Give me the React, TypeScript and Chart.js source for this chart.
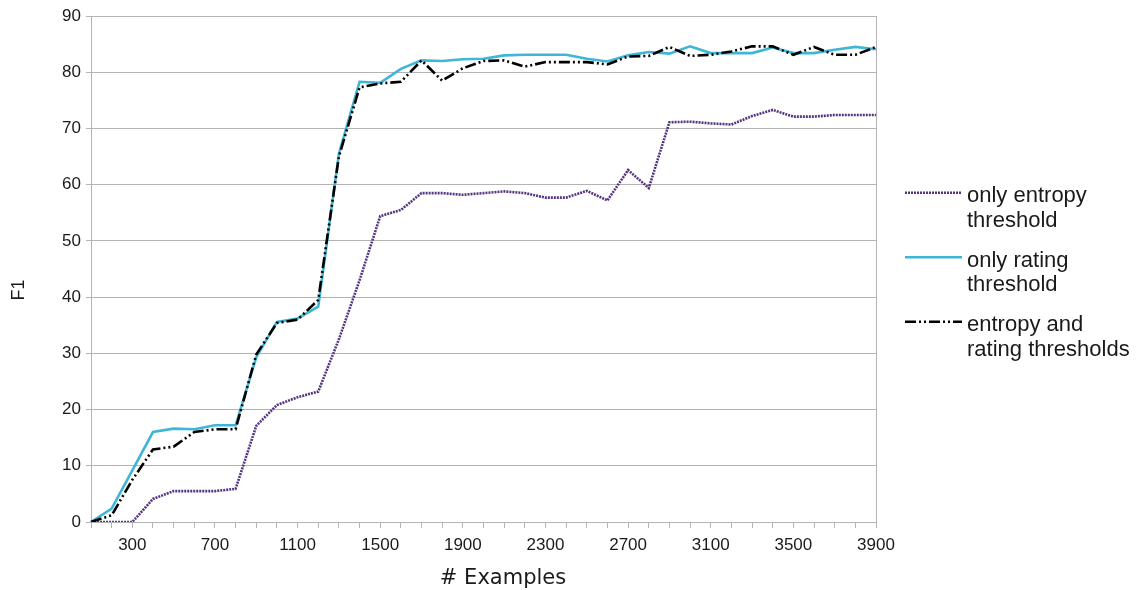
import { useEffect, useRef } from 'react';
import { Chart, registerables } from 'chart.js';

Chart.register(...registerables);

// ---- data ----
const examples = [
  '100', '200', '300', '400', '500', '600', '700', '800', '900', '1000',
  '1100', '1200', '1300', '1400', '1500', '1600', '1700', '1800', '1900', '2000',
  '2100', '2200', '2300', '2400', '2500', '2600', '2700', '2800', '2900', '3000',
  '3100', '3200', '3300', '3400', '3500', '3600', '3700', '3800', '3900',
];

const entropyOnly = [
  0, 0, 0, 4.1, 5.5, 5.5, 5.5, 5.9, 17.1, 20.8,
  22.2, 23.2, 32.5, 43, 54.4, 55.5, 58.5, 58.5, 58.2, 58.5,
  58.8, 58.5, 57.7, 57.7, 58.9, 57.2, 62.6, 59.4, 71.1, 71.2,
  70.9, 70.7, 72.2, 73.3, 72.1, 72.1, 72.4, 72.4, 72.4,
];

const ratingOnly = [
  0, 2.4, 9.2, 16, 16.6, 16.5, 17.2, 17.2, 29.3, 35.6,
  36.2, 38.3, 65.5, 78.3, 78.1, 80.6, 82.1, 82, 82.3, 82.4,
  83, 83.1, 83.1, 83.1, 82.4, 81.9, 83, 83.6, 83.3, 84.6,
  83.4, 83.4, 83.4, 84.4, 83.4, 83.4, 84, 84.5, 84.1,
];

const entropyAndRating = [
  0, 1.2, 7.5, 12.9, 13.4, 16, 16.5, 16.5, 29.8, 35.4,
  36, 39.5, 65, 77.3, 78, 78.3, 82.1, 78.5, 80.7, 82,
  82.1, 81, 81.8, 81.8, 81.8, 81.4, 82.8, 82.9, 84.5, 82.9,
  83.1, 83.7, 84.6, 84.6, 83.1, 84.5, 83.1, 83.1, 84.5,
];

const seriesNames = [
  ['only entropy', 'threshold'],
  ['only rating', 'threshold'],
  ['entropy and', 'rating thresholds'],
];

const yMin = 0;
const yMax = 90;
const yStep = 10;
const xTitle = '# Examples';
const yTitle = 'F1';

// ---- styles ----
const FONT = "'Liberation Sans', Arial, sans-serif";
const GRID = '#b3b3b3';
const TEXT = '#1a1a1a';

const overlayPlugin = {
  id: 'overlay',
  afterDraw(chart: any) {
    const ctx = chart.ctx as CanvasRenderingContext2D;
    ctx.save();
    // axis titles
    ctx.fillStyle = TEXT;
    ctx.textAlign = 'center';
    ctx.textBaseline = 'alphabetic';
    ctx.font = `21px 'DejaVu Sans', sans-serif`;
    ctx.fillText(xTitle, 503, 584);
    ctx.save();
    ctx.translate(19, 290);
    ctx.rotate(-Math.PI / 2);
    ctx.font = `18px ${FONT}`;
    ctx.textBaseline = 'middle';
    ctx.fillText(yTitle, 0, 0);
    ctx.restore();

    // legend
    chart.data.datasets.forEach((ds: any, i: number) => {
      const y = 192.7 + i * 64.5;
      ctx.save();
      ctx.strokeStyle = ds.borderColor;
      ctx.lineWidth = ds.borderWidth;
      ctx.setLineDash(ds.borderDash || []);
      ctx.lineCap = 'butt';
      ctx.beginPath();
      ctx.moveTo(905, y);
      ctx.lineTo(962, y);
      ctx.stroke();
      ctx.restore();
      ctx.fillStyle = TEXT;
      ctx.font = `22px ${FONT}`;
      ctx.textAlign = 'left';
      ctx.textBaseline = 'alphabetic';
      const lines = seriesNames[i];
      lines.forEach((t, j) => ctx.fillText(t, 967, y + 9.6 + j * 24.6));
    });
    ctx.restore();
  },
};

export default function App() {
  const ref = useRef<HTMLCanvasElement | null>(null);

  useEffect(() => {
    if (!ref.current) return;
    const chart = new Chart(ref.current, {
      type: 'line',
      data: {
        labels: examples,
        datasets: [
          {
            label: seriesNames[0].join(' '),
            data: entropyOnly,
            borderColor: '#553580',
            borderWidth: 2.6,
            borderDash: [2, 1],
            pointRadius: 0,
            tension: 0,
            order: 3,
          },
          {
            label: seriesNames[1].join(' '),
            data: ratingOnly,
            borderColor: '#3fb6d6',
            borderWidth: 2.6,
            pointRadius: 0,
            tension: 0,
            order: 2,
          },
          {
            label: seriesNames[2].join(' '),
            data: entropyAndRating,
            borderColor: '#000000',
            borderWidth: 2.6,
            borderDash: [11, 3, 2, 3, 2, 3],
            pointRadius: 0,
            tension: 0,
            order: 1,
          },
        ],
      },
      options: {
        animation: false,
        responsive: false,
        maintainAspectRatio: false,
        layout: { padding: { left: 0, top: 16, right: 261, bottom: 0 } },
        plugins: {
          legend: { display: false },
          tooltip: { enabled: false },
        },
        scales: {
          x: {
            type: 'category',
            offset: false,
            grid: {
              display: true,
              drawOnChartArea: true,
              color: (c: any) => (c.index === examples.length - 1 ? GRID : 'rgba(0,0,0,0)'),
              tickColor: GRID,
              tickLength: 6,
              lineWidth: 1,
            },
            border: { display: true, color: GRID },
            ticks: {
              autoSkip: false,
              maxRotation: 0,
              minRotation: 0,
              padding: 7,
              color: TEXT,
              font: { family: FONT, size: 17 },
              callback: (_v: any, i: number) => (i % 4 === 2 ? examples[i] : ''),
            },
            afterFit: (s: any) => {
              s.height = 68;
            },
          },
          y: {
            min: yMin,
            max: yMax,
            ticks: {
              stepSize: yStep,
              padding: 5,
              color: TEXT,
              font: { family: FONT, size: 17 },
            },
            grid: { color: GRID, tickColor: GRID, tickLength: 5, lineWidth: 1 },
            border: { display: true, color: GRID },
            afterFit: (s: any) => {
              s.width = 91;
            },
          },
        },
      },
      plugins: [overlayPlugin],
    });
    return () => chart.destroy();
  }, []);

  return (
    <div style={{ position: 'absolute', left: 0, top: 0, width: 1137, height: 590, background: '#fff' }}>
      <canvas ref={ref} width={1137} height={590} style={{ display: 'block' }} />
    </div>
  );
}
